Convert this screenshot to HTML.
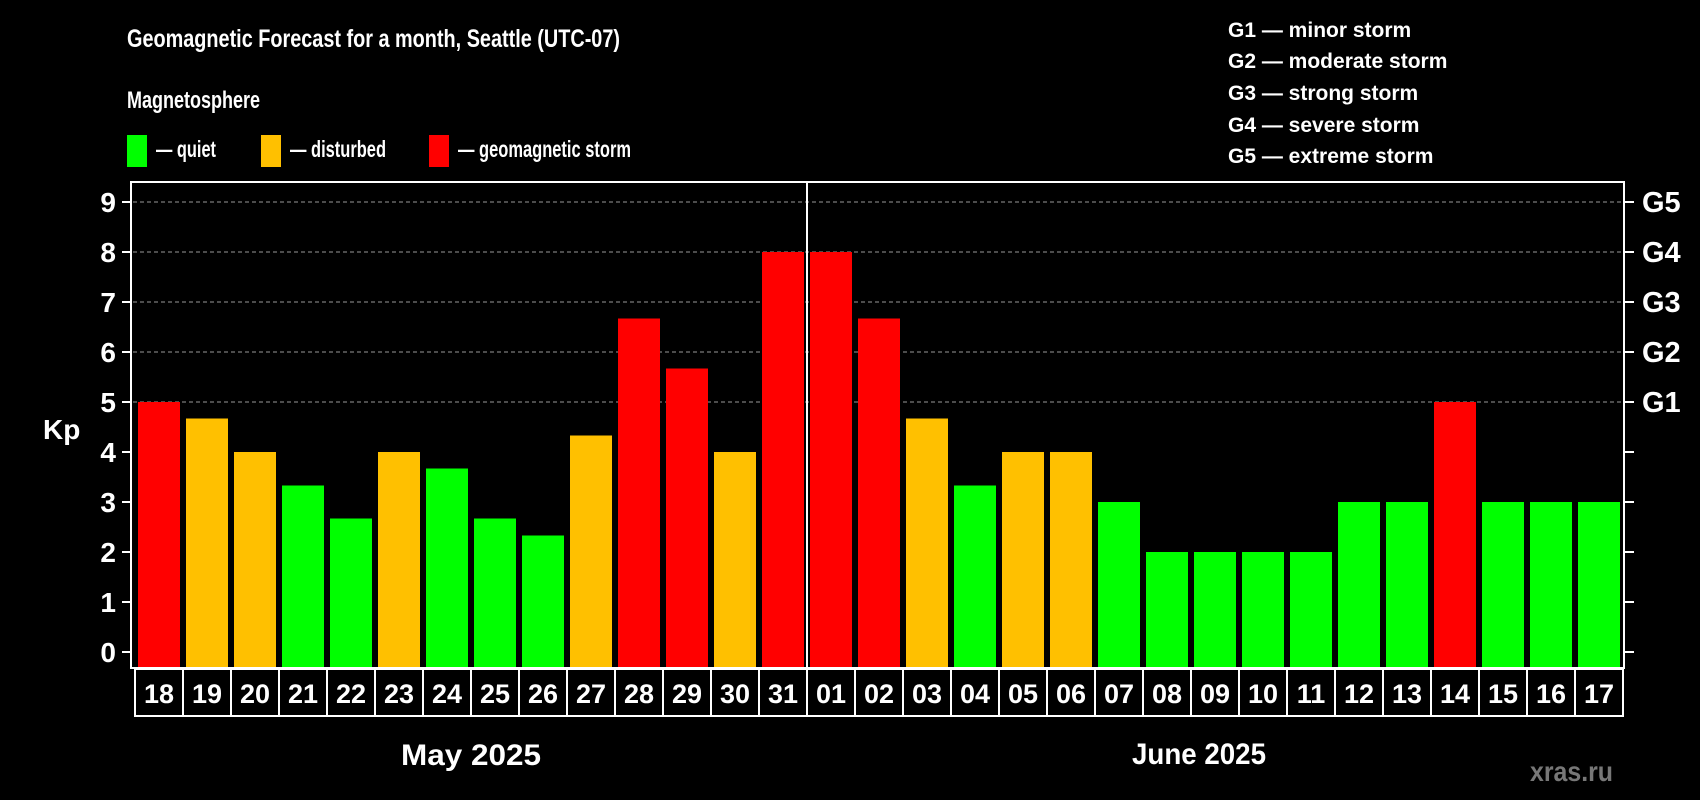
<!DOCTYPE html>
<html><head><meta charset="utf-8"><style>
html,body{margin:0;padding:0;background:#000;}
svg{display:block;font-family:"Liberation Sans",Arial,sans-serif;font-weight:bold;}
</style></head><body>
<svg id="chart" width="1700" height="800" viewBox="0 0 1700 800" xmlns="http://www.w3.org/2000/svg">
<rect x="0" y="0" width="1700" height="800" fill="#000"/>
<text x="127" y="47" font-size="25" fill="#fff" textLength="493" lengthAdjust="spacingAndGlyphs">Geomagnetic Forecast for a month, Seattle (UTC-07)</text>
<text x="127" y="108" font-size="24" fill="#fff" textLength="133" lengthAdjust="spacingAndGlyphs">Magnetosphere</text>
<g>
<rect x="127" y="135" width="20" height="32" fill="#00ff00"/>
<text x="156" y="157" font-size="23" fill="#fff" textLength="60" lengthAdjust="spacingAndGlyphs">— quiet</text></g>
<g>
<rect x="261" y="135" width="20" height="32" fill="#ffc000"/>
<text x="290" y="157" font-size="23" fill="#fff" textLength="96" lengthAdjust="spacingAndGlyphs">— disturbed</text></g>
<g>
<rect x="429" y="135" width="20" height="32" fill="#ff0000"/>
<text x="458" y="157" font-size="23" fill="#fff" textLength="173" lengthAdjust="spacingAndGlyphs">— geomagnetic storm</text></g>
<g font-size="21" fill="#fff">
<text x="1228" y="37">G1 — minor storm</text>
<text x="1228" y="68">G2 — moderate storm</text>
<text x="1228" y="100">G3 — strong storm</text>
<text x="1228" y="132">G4 — severe storm</text>
<text x="1228" y="163">G5 — extreme storm</text>
</g>
<g id="grid"></g>
<g id="bars"></g>
<g id="axes"></g>
<text x="43" y="439" font-size="28" fill="#fff">Kp</text>
<text x="401" y="765" font-size="30" fill="#fff" textLength="140" lengthAdjust="spacingAndGlyphs">May 2025</text>
<text x="1132" y="764" font-size="30" fill="#fff" textLength="134" lengthAdjust="spacingAndGlyphs">June 2025</text>
<text x="1530" y="781" font-size="28" fill="#777" textLength="83" lengthAdjust="spacingAndGlyphs">xras.ru</text>
</svg>
<script>
const days = ["18","19","20","21","22","23","24","25","26","27","28","29","30","31","01","02","03","04","05","06","07","08","09","10","11","12","13","14","15","16","17"];
const kpValues = [5,4.67,4,3.33,2.67,4,3.67,2.67,2.33,4.33,6.67,5.67,4,8,8,6.67,4.67,3.33,4,4,3,2,2,2,2,3,3,5,3,3,3];
const yTicks = [0,1,2,3,4,5,6,7,8,9];
const gLabels = ["G1","G2","G3","G4","G5"];
const gLevels = [5,6,7,8,9];
const monthBreakIndex = 14;

const NS = "http://www.w3.org/2000/svg";
const plotL = 131, plotR = 1624, plotT = 182, plotB = 668;
const y0 = 652, unit = 50;
const x0 = 135, step = 48;
function yScale(v){ return y0 - v*unit; }
function xScale(i){ return x0 + i*step; }
function colorFor(v){ return v >= 5 ? "#ff0000" : (v >= 4 ? "#ffc000" : "#00ff00"); }
function mk(tag, attrs, parent){ const e=document.createElementNS(NS,tag); for(const k in attrs) e.setAttribute(k,attrs[k]); parent.appendChild(e); return e; }

const grid = document.getElementById("grid");
const bars = document.getElementById("bars");
const axes = document.getElementById("axes");

gLevels.forEach((lv,i)=>{
  const l = mk("line",{x1:plotL+2,x2:plotR-1,y1:yScale(lv),y2:yScale(lv),stroke:"#999","stroke-width":1,"stroke-dasharray":"4,3"},grid);
  
  
});

kpValues.forEach((v,i)=>{
  const top = yScale(v);
  const r = mk("rect",{x:xScale(i)+3,y:top,width:42,height:plotB-top,fill:colorFor(v)},bars);
  
  
});

const frame = mk("rect",{x:plotL,y:plotT,width:plotR-plotL,height:plotB-plotT,fill:"none",stroke:"#fff","stroke-width":2},axes);



const mb = mk("line",{x1:xScale(monthBreakIndex),x2:xScale(monthBreakIndex),y1:plotT,y2:plotB,stroke:"#fff","stroke-width":2},axes);



yTicks.forEach(t=>{
  const y = yScale(t);
  mk("line",{x1:122,x2:plotL,y1:y,y2:y,stroke:"#fff","stroke-width":2},axes);
  mk("line",{x1:plotR,x2:1634,y1:y,y2:y,stroke:"#fff","stroke-width":2},axes);
  const tx = mk("text",{x:116,y:y+10,"font-size":28,fill:"#fff","text-anchor":"end"},axes);
  tx.textContent = t;
  
  
});

gLabels.forEach((g,i)=>{
  const tx = mk("text",{x:1642,y:yScale(gLevels[i])+10,"font-size":29,fill:"#fff"},axes);
  tx.textContent = g;
  
  
});

days.forEach((d,i)=>{
  const bx = mk("rect",{x:xScale(i),y:669,width:step,height:47,fill:"none",stroke:"#fff","stroke-width":2},axes);
  
  
  const tx = mk("text",{x:xScale(i)+step/2,y:703,"font-size":27,fill:"#fff","text-anchor":"middle"},axes);
  tx.textContent = d;
  
  
});
</script>
</body></html>
